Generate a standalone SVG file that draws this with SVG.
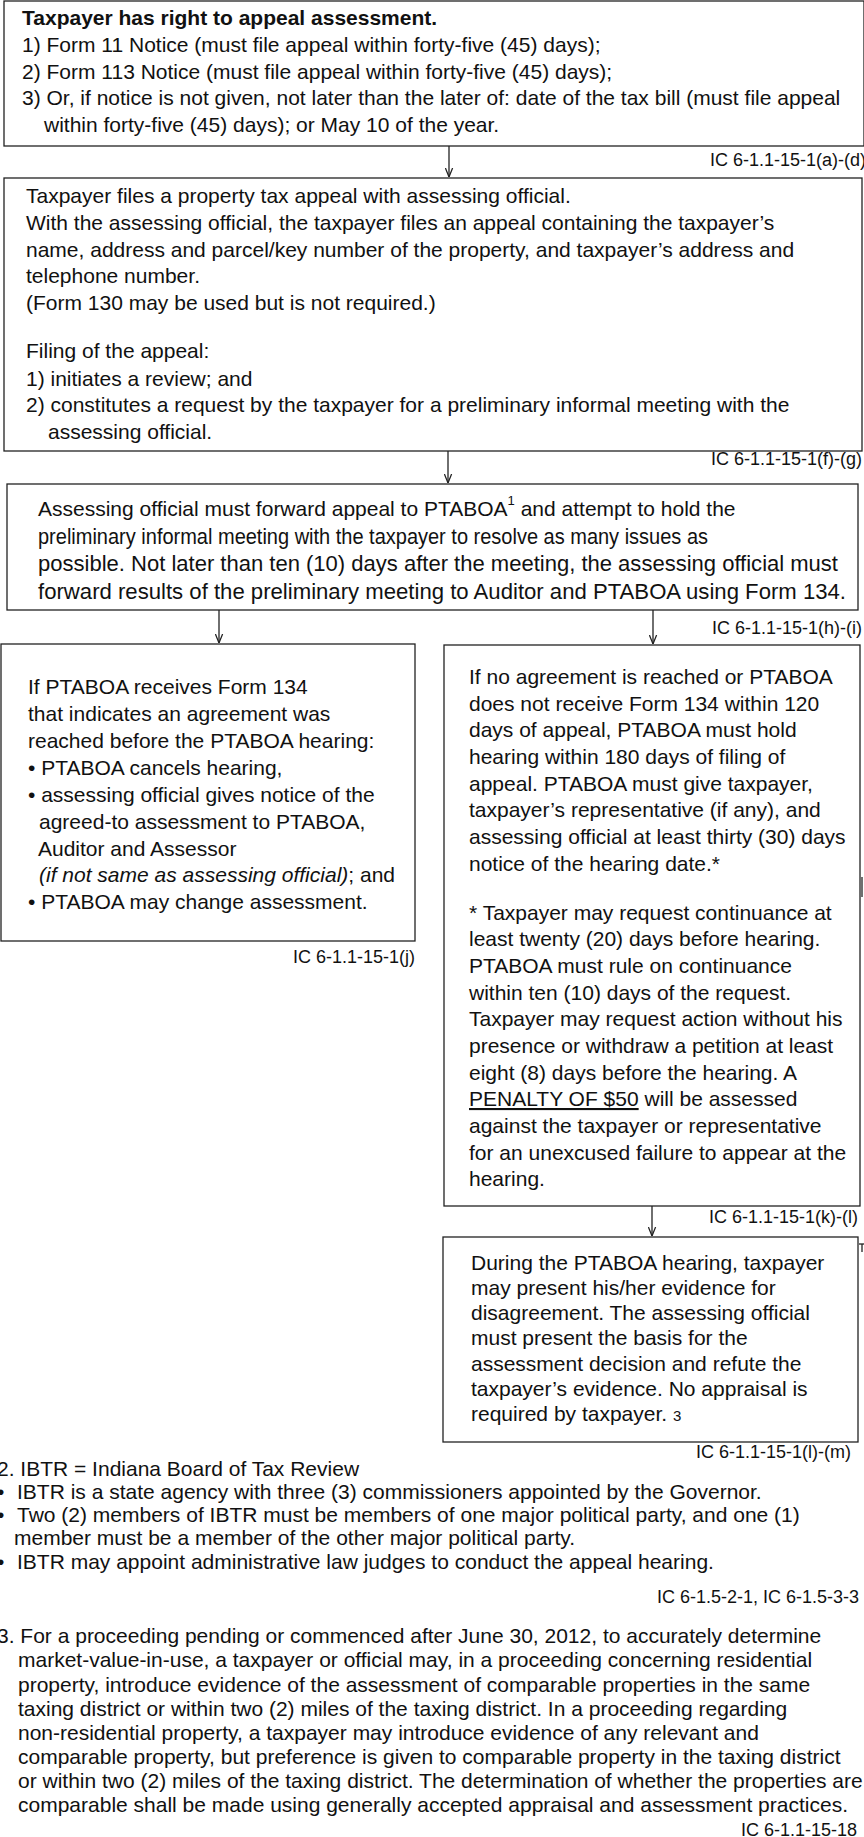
<svg xmlns="http://www.w3.org/2000/svg" width="864" height="1837" viewBox="0 0 864 1837">
<style>
text{font-family:"Liberation Sans",Arial,sans-serif;font-size:21px;fill:#111}
.b{font-weight:bold}
.s22{font-size:22px}
.lab{font-size:18px;text-anchor:end}
.box{fill:#fff;stroke:#222;stroke-width:1.3}
.con{stroke:#222;stroke-width:1.3;fill:none}
.tick{stroke:#222;stroke-width:1.3;fill:none}
</style>
<defs>
<marker id="ah" viewBox="0 0 10 10" refX="10" refY="5" markerWidth="9" markerHeight="9" markerUnits="userSpaceOnUse" orient="auto">
<path d="M0,1 L10,5 L0,9" fill="none" stroke="#222" stroke-width="1.4"/>
</marker>
</defs>
<rect width="864" height="1837" fill="#fff"/>

<g id="connectors">
<line class="con" x1="449" y1="146" x2="449" y2="177" marker-end="url(#ah)"/>
<line class="con" x1="448" y1="451" x2="448" y2="483" marker-end="url(#ah)"/>
<line class="con" x1="219" y1="610" x2="219" y2="643" marker-end="url(#ah)"/>
<line class="con" x1="653" y1="610" x2="653" y2="644" marker-end="url(#ah)"/>
<line class="con" x1="652" y1="1206" x2="652" y2="1236" marker-end="url(#ah)"/>
</g>

<g id="node-right-to-appeal">
<rect class="box" x="4" y="1" width="860" height="145"/>
<text class="b" x="22" y="25">Taxpayer has right to appeal assessment.</text>
<text x="22" y="52">1) Form 11 Notice (must file appeal within forty-five (45) days);</text>
<text x="22" y="79">2) Form 113 Notice (must file appeal within forty-five (45) days);</text>
<text x="22" y="105">3) Or, if notice is not given, not later than the later of: date of the tax bill (must file appeal</text>
<text x="44" y="132">within forty-five (45) days); or May 10 of the year.</text>
<text class="lab" x="866" y="166">IC 6-1.1-15-1(a)-(d)</text>
</g>

<g id="node-files-appeal">
<rect class="box" x="4" y="178" width="858" height="273"/>
<text x="26" y="203">Taxpayer files a property tax appeal with assessing official.</text>
<text x="26" y="230">With the assessing official, the taxpayer files an appeal containing the taxpayer’s</text>
<text x="26" y="257">name, address and parcel/key number of the property, and taxpayer’s address and</text>
<text x="26" y="283">telephone number.</text>
<text x="26" y="310">(Form 130 may be used but is not required.)</text>
<text x="26" y="358">Filing of the appeal:</text>
<text x="26" y="386">1) initiates a review; and</text>
<text x="26" y="412">2) constitutes a request by the taxpayer for a preliminary informal meeting with the</text>
<text x="48" y="439">assessing official.</text>
<text class="lab" x="862" y="465">IC 6-1.1-15-1(f)-(g)</text>
</g>

<g id="node-forward-appeal">
<rect class="box" x="7" y="484" width="851" height="126"/>
<text x="38" y="516" font-size="20.9">Assessing official must forward appeal to PTABOA<tspan font-size="13" dy="-11">1</tspan><tspan dy="11"> and attempt to hold the</tspan></text>
<text class="s22" x="38" y="544" textLength="670" lengthAdjust="spacingAndGlyphs">preliminary informal meeting with the taxpayer to resolve as many issues as</text>
<text class="s22" x="38" y="571" textLength="800" lengthAdjust="spacingAndGlyphs">possible. Not later than ten (10) days after the meeting, the assessing official must</text>
<text class="s22" x="38" y="599" textLength="808" lengthAdjust="spacingAndGlyphs">forward results of the preliminary meeting to Auditor and PTABOA using Form 134.</text>
<text class="lab" x="862" y="634">IC 6-1.1-15-1(h)-(i)</text>
</g>

<g id="node-agreement">
<rect class="box" x="1" y="644" width="414" height="297"/>
<text x="28" y="694">If PTABOA receives Form 134</text>
<text x="28" y="721">that indicates an agreement was</text>
<text x="28" y="748">reached before the PTABOA hearing:</text>
<text x="28" y="775">• PTABOA cancels hearing,</text>
<text x="28" y="802">• assessing official gives notice of the</text>
<text x="39" y="829">agreed-to assessment to PTABOA,</text>
<text x="38" y="856">Auditor and Assessor</text>
<text x="39" y="882"><tspan font-style="italic">(if not same as assessing official)</tspan>; and</text>
<text x="28" y="909">• PTABOA may change assessment.</text>
<text class="lab" x="415" y="963">IC 6-1.1-15-1(j)</text>
</g>

<g id="node-no-agreement">
<rect class="box" x="444" y="645" width="416" height="561"/>
<text x="469" y="684">If no agreement is reached or PTABOA</text>
<text x="469" y="711">does not receive Form 134 within 120</text>
<text x="469" y="737">days of appeal, PTABOA must hold</text>
<text x="469" y="764">hearing within 180 days of filing of</text>
<text x="469" y="791">appeal.  PTABOA must give taxpayer,</text>
<text x="469" y="817">taxpayer’s representative (if any), and</text>
<text x="469" y="844">assessing official at least thirty (30) days</text>
<text x="469" y="871">notice of the hearing date.*</text>
<text x="469" y="920">* Taxpayer may request continuance at</text>
<text x="469" y="946">least twenty (20) days before hearing.</text>
<text x="469" y="973">PTABOA must rule on continuance</text>
<text x="469" y="1000">within ten (10) days of the request.</text>
<text x="469" y="1026">Taxpayer may request action without his</text>
<text x="469" y="1053">presence or withdraw a petition at least</text>
<text x="469" y="1080">eight (8) days before the hearing. A</text>
<text x="469" y="1106"><tspan text-decoration="underline">PENALTY OF $50</tspan> will be assessed</text>
<text x="469" y="1133">against the taxpayer or representative</text>
<text x="469" y="1160">for an unexcused failure to appear at the</text>
<text x="469" y="1186">hearing.</text>
<text class="lab" x="858" y="1223">IC 6-1.1-15-1(k)-(l)</text>
</g>

<g id="node-hearing">
<rect class="box" x="443" y="1237" width="415" height="205"/>
<text x="471" y="1270">During the PTABOA hearing, taxpayer</text>
<text x="471" y="1295">may present his/her evidence for</text>
<text x="471" y="1320">disagreement. The assessing official</text>
<text x="471" y="1345">must present the basis for the</text>
<text x="471" y="1371">assessment decision and refute the</text>
<text x="471" y="1396">taxpayer’s evidence. No appraisal is</text>
<text x="471" y="1421">required by taxpayer. <tspan font-size="15">3</tspan></text>
<text class="lab" x="851" y="1458">IC 6-1.1-15-1(l)-(m)</text>
</g>

<g id="marks">
<line class="tick" x1="862" y1="877" x2="862" y2="897"/>
<polyline class="tick" points="859,1244 864,1244"/>
<line class="tick" x1="862" y1="1244" x2="862" y2="1252"/>
</g>

<g id="footnote-2">
<text x="-3" y="1476">2. IBTR = Indiana Board of Tax Review</text>
<text x="-3" y="1499">•</text>
<text x="17" y="1499">IBTR is a state agency with three (3) commissioners appointed by the Governor.</text>
<text x="-3" y="1522">•</text>
<text x="17" y="1522">Two (2) members of IBTR must be members of one major political party, and one (1)</text>
<text x="14" y="1545">member must be a member of the other major political party.</text>
<text x="-3" y="1569">•</text>
<text x="17" y="1569">IBTR may appoint administrative law judges to conduct the appeal hearing.</text>
<text class="lab" x="859" y="1603">IC 6-1.5-2-1, IC 6-1.5-3-3</text>
</g>

<g id="footnote-3">
<text x="-3" y="1643">3. For a proceeding pending or commenced after June 30, 2012, to accurately determine</text>
<text x="18" y="1667">market-value-in-use, a taxpayer or official may, in a proceeding concerning residential</text>
<text x="18" y="1692">property, introduce evidence of the assessment of comparable properties in the same</text>
<text x="18" y="1716">taxing district or within two (2) miles of the taxing district. In a proceeding regarding</text>
<text x="18" y="1740">non-residential property, a taxpayer may introduce evidence of any relevant and</text>
<text x="18" y="1764">comparable property, but preference is given to comparable property in the taxing district</text>
<text x="18" y="1788">or within two (2) miles of the taxing district. The determination of whether the properties are</text>
<text x="18" y="1812">comparable shall be made using generally accepted appraisal and assessment practices.</text>
<text class="lab" x="857" y="1836">IC 6-1.1-15-18</text>
</g>
</svg>
